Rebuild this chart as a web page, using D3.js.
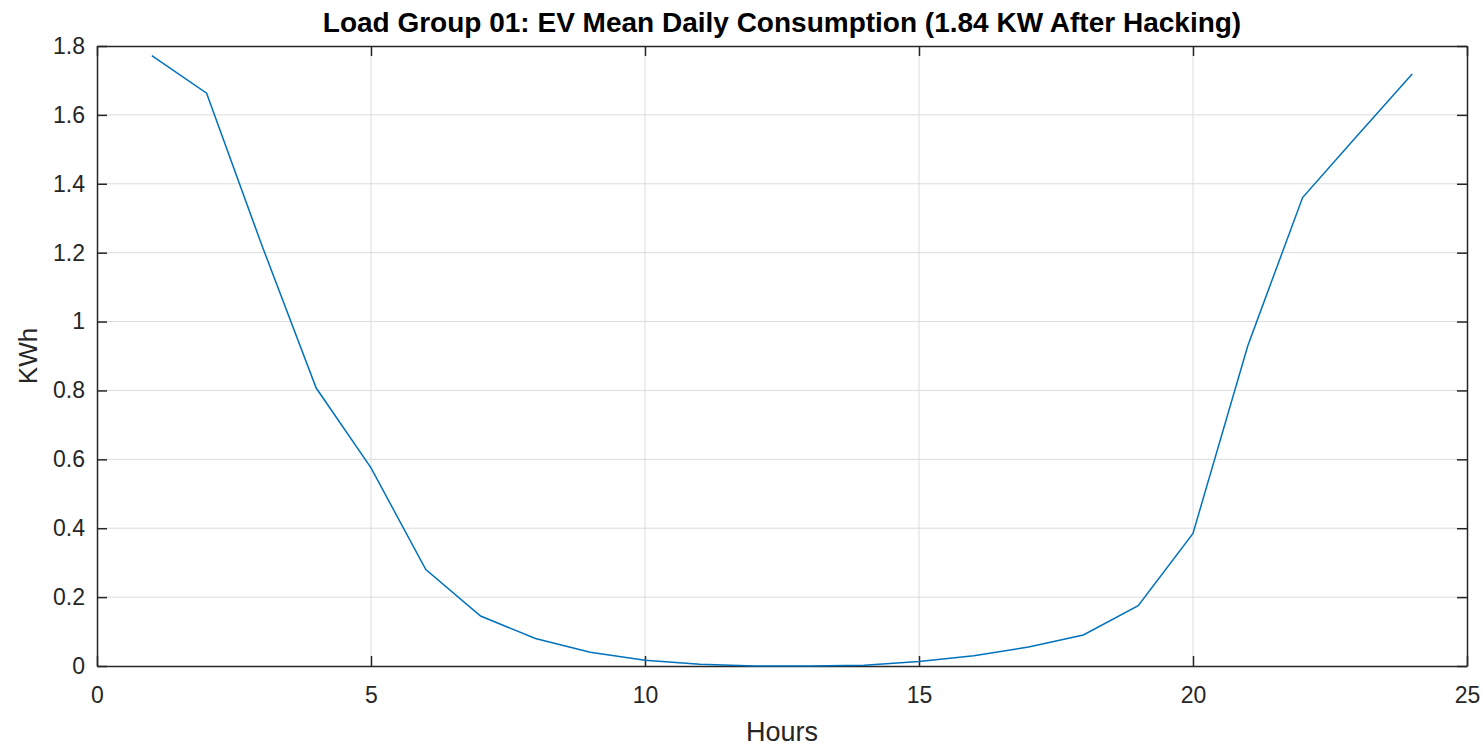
<!DOCTYPE html>
<html>
<head>
<meta charset="utf-8">
<script src="https://cdn.jsdelivr.net/npm/d3@7"></script>
<style>
  body { margin: 0; background: #fff; }
  svg { font-family: "Liberation Sans", Arial, sans-serif; }
</style>
</head>
<body>
<div id="chart"></div>
<script>
// hourly mean consumption
const hours = [1, 2, 3, 4, 5, 6, 7, 8, 9, 10, 11, 12, 13, 14, 15, 16, 17, 18, 19, 20, 21, 22, 23, 24];
const kwh = [1.772, 1.663, 1.225, 0.807, 0.575, 0.28, 0.145, 0.08, 0.04, 0.017, 0.005, 0.0,
             0.0, 0.002, 0.013, 0.03, 0.055, 0.09, 0.175, 0.385, 0.93, 1.36, 1.54, 1.719];
const xTicks = [0, 5, 10, 15, 20, 25];
const yTicks = [0, 0.2, 0.4, 0.6, 0.8, 1, 1.2, 1.4, 1.6, 1.8];

const width = 1483, height = 750;
const margin = { top: 46, right: 16, bottom: 84, left: 97 };
const iw = width - margin.left - margin.right;
const ih = height - margin.top - margin.bottom;

const svg = d3.select('#chart').append('svg')
  .attr('width', width)
  .attr('height', height);

const x = d3.scaleLinear().domain([0, 25]).range([0, iw]);
const y = d3.scaleLinear().domain([0, 1.8]).range([ih, 0]);

const g = svg.append('g').attr('transform', `translate(${margin.left},${margin.top})`);

// grid
g.append('g').selectAll('line').data(xTicks.slice(1, -1)).enter().append('line')
  .attr('x1', d => x(d)).attr('x2', d => x(d))
  .attr('y1', 0).attr('y2', ih)
  .attr('stroke', '#dcdcdc').attr('stroke-width', 1);
g.append('g').selectAll('line').data(yTicks.slice(1, -1)).enter().append('line')
  .attr('x1', 0).attr('x2', iw)
  .attr('y1', d => y(d)).attr('y2', d => y(d))
  .attr('stroke', '#dcdcdc').attr('stroke-width', 1);

// axes with inward ticks, box on all sides
const axisColor = '#262626';
const styleAxis = (sel) => {
  sel.select('.domain').attr('stroke', axisColor).attr('stroke-width', 1.5);
  sel.selectAll('.tick line').attr('stroke', axisColor).attr('stroke-width', 1.5);
  sel.selectAll('.tick text').attr('fill', '#262626').attr('font-size', 23);
};

g.append('g')
  .attr('transform', `translate(0,${ih})`)
  .call(d3.axisBottom(x).tickValues(xTicks).tickSizeInner(-10).tickSizeOuter(0).tickPadding(21).tickFormat(d3.format('d')))
  .call(styleAxis);

g.append('g')
  .call(d3.axisTop(x).tickValues(xTicks).tickSizeInner(-10).tickSizeOuter(0).tickFormat(''))
  .call(styleAxis);

g.append('g')
  .call(d3.axisLeft(y).tickValues(yTicks).tickSizeInner(-10).tickSizeOuter(0).tickPadding(12).tickFormat(d => d === 0 || d === 1 ? d3.format('d')(d) : d3.format('.1f')(d)))
  .call(styleAxis);

g.append('g')
  .attr('transform', `translate(${iw},0)`)
  .call(d3.axisRight(y).tickValues(yTicks).tickSizeInner(-10).tickSizeOuter(0).tickFormat(''))
  .call(styleAxis);

// line
const line = d3.line().x((d, i) => x(hours[i])).y(d => y(d));
g.append('path')
  .datum(kwh)
  .attr('fill', 'none')
  .attr('stroke', '#0072BD')
  .attr('stroke-width', 1.5)
  .attr('d', line);

// labels
svg.append('text')
  .attr('x', margin.left + iw / 2)
  .attr('y', 32)
  .attr('text-anchor', 'middle')
  .attr('font-size', 28)
  .attr('font-weight', 'bold')
  .attr('fill', '#000')
  .text('Load Group 01: EV Mean Daily Consumption (1.84 KW After Hacking)');

svg.append('text')
  .attr('x', margin.left + iw / 2)
  .attr('y', 741)
  .attr('text-anchor', 'middle')
  .attr('font-size', 27)
  .attr('fill', '#262626')
  .text('Hours');

svg.append('text')
  .attr('transform', `translate(37,${margin.top + ih / 2}) rotate(-90)`)
  .attr('text-anchor', 'middle')
  .attr('font-size', 26)
  .attr('fill', '#262626')
  .text('KWh');
</script>
</body>
</html>
